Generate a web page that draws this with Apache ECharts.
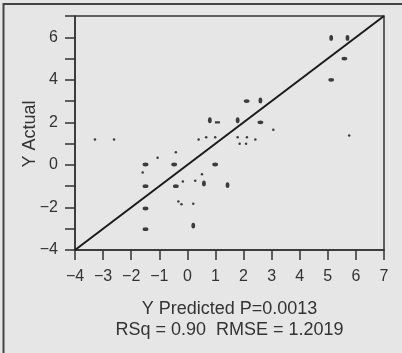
<!DOCTYPE html>
<html>
<head>
<meta charset="utf-8">
<script src="https://cdn.jsdelivr.net/npm/echarts@6/dist/echarts.min.js"></script>
<style>
html,body{margin:0;padding:0;background:#e6e6e6;}
#chart{width:402px;height:353px;}
</style>
</head>
<body>
<div id="chart"></div>
<script>
// Axis ranges / ticks
var axisMin = -4;
var axisMax = 7;
var tickStep = 1;

// Fit line endpoints (Actual = Predicted)
var fitLine = [[-4, -4], [7, 7]];

// Points drawn as horizontal ellipses [predicted, actual]
var wideMarks = [
  [5.59, 5.0], [5.12, 4.0], [2.11, 3.0], [2.60, 2.0], [0.99, 0.02],
  [-0.41, -1.0], [-0.47, 0.02], [-1.49, 0.02], [-1.49, -1.0],
  [-1.49, -2.05], [-1.49, -3.02]
];
// Thin dash mark
var dashMarks = [[1.07, 2.0]];
// Points drawn as vertical ellipses
var tallMarks = [
  [5.12, 5.97], [5.70, 5.97], [2.60, 3.03], [1.79, 2.1], [0.80, 2.1],
  [0.59, -0.87], [0.21, -2.85], [1.43, -0.95]
];
// Small dots
var dotMarks = [
  [5.76, 1.38], [3.06, 1.65], [1.79, 1.3], [2.12, 1.3], [1.86, 1.0],
  [2.09, 1.0], [2.42, 1.2], [0.67, 1.3], [0.99, 1.3], [0.40, 1.2],
  [0.52, -0.44], [0.28, -0.75], [-0.16, -0.78], [-0.41, 0.6],
  [-1.06, 0.34], [-1.59, -0.36], [-0.32, -1.72], [-0.21, -1.85],
  [0.21, -1.82], [-3.29, 1.2], [-2.61, 1.2]
];

var xTitle = 'Y Predicted P=0.0013\nRSq = 0.90  RMSE = 1.2019';
var yTitle = 'Y Actual';

function fmtNum(v) {
  return v < 0 ? '\u2212' + Math.abs(v) : String(v);
}

var chart = echarts.init(document.getElementById('chart'), null, {renderer: 'canvas'});
var font = 'Liberation Sans, Arial, Helvetica, sans-serif';
var ink = '#111';
var axisInk = '#333';

chart.setOption({
  backgroundColor: '#e6e6e6',
  animation: false,
  graphic: [{
    type: 'rect',
    shape: {x: 3.5, y: 4, width: 420, height: 380},
    style: {fill: 'none', stroke: '#444', lineWidth: 2},
    silent: true
  }, {
    type: 'text',
    x: 30, y: 134,
    rotation: Math.PI / 2,
    style: {
      text: yTitle, fontFamily: font, fontSize: 18, fill: axisInk,
      align: 'center', verticalAlign: 'middle'
    },
    silent: true
  }],
  grid: {
    left: 75, right: 18, top: 16, bottom: 103,
    show: true, borderColor: axisInk, borderWidth: 1.5,
    backgroundColor: 'transparent'
  },
  xAxis: {
    type: 'value', min: axisMin, max: axisMax, interval: tickStep,
    name: xTitle, nameLocation: 'middle', nameGap: 48,
    nameTextStyle: {fontFamily: font, fontSize: 18, color: axisInk, lineHeight: 21.6},
    axisLine: {show: true, onZero: false, lineStyle: {color: axisInk, width: 1.5}},
    axisTick: {show: true, inside: false, length: 10, lineStyle: {color: axisInk, width: 1.5}},
    axisLabel: {fontFamily: font, fontSize: 16, color: axisInk, margin: 19, formatter: fmtNum},
    splitLine: {show: false}
  },
  yAxis: {
    type: 'value', min: axisMin, max: axisMax, interval: tickStep,
    axisLine: {show: true, onZero: false, lineStyle: {color: axisInk, width: 1.5}},
    axisTick: {show: true, inside: false, length: 10, lineStyle: {color: axisInk, width: 1.5}},
    axisLabel: {fontFamily: font, fontSize: 16, color: axisInk, margin: 17,
      formatter: function (v) { return (Math.abs(v) % 2 === 0 && v < 7) ? fmtNum(v) : ''; }},
    splitLine: {show: false}
  },
  series: [
    {
      type: 'line', data: fitLine, symbol: 'none', silent: true,
      lineStyle: {color: '#1a1a1a', width: 2}, z: 3
    },
    {
      type: 'scatter', data: wideMarks, symbol: 'circle', symbolSize: [5.8, 3.8],
      itemStyle: {color: ink}, z: 4
    },
    {
      type: 'scatter', data: dashMarks, symbol: 'rect', symbolSize: [5, 2.2],
      itemStyle: {color: ink}, z: 4
    },
    {
      type: 'scatter', data: tallMarks, symbol: 'circle', symbolSize: [3.8, 5.8],
      itemStyle: {color: ink}, z: 4
    },
    {
      type: 'scatter', data: dotMarks, symbol: 'circle', symbolSize: 2.5,
      itemStyle: {color: ink}, z: 4
    }
  ]
});
</script>
</body>
</html>
